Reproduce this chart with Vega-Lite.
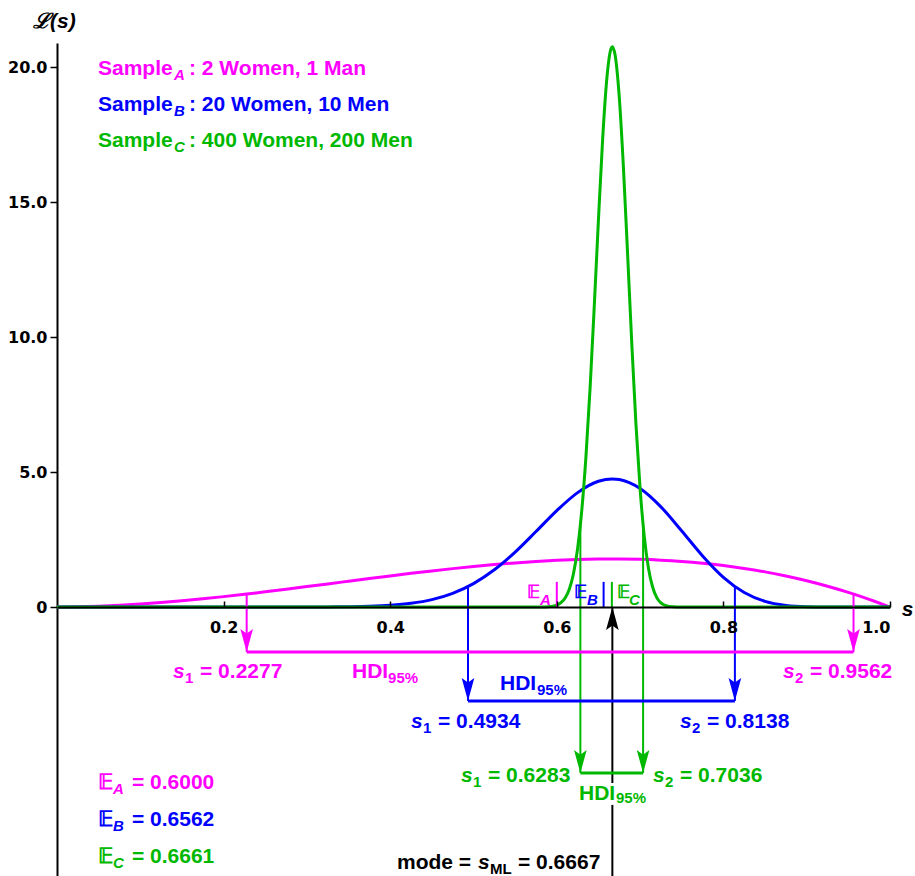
{
  "$schema": "https://vega.github.io/schema/vega-lite/v6.json",
  "width": 833,
  "height": 833,
  "autosize": {"type": "none"},
  "padding": {"left": 57, "top": 43, "right": 25, "bottom": 0},
  "background": "white",
  "config": {"view": {"stroke": null}, "font": "Liberation Sans"},
  "datasets": {
    "curves": [
      {"s": 0, "L": 0, "k": "A"}, {"s": 0.025, "L": 0.0073, "k": "A"}, {"s": 0.05, "L": 0.0285, "k": "A"}, {"s": 0.075, "L": 0.0624, "k": "A"},
      {"s": 0.1, "L": 0.108, "k": "A"}, {"s": 0.125, "L": 0.1641, "k": "A"}, {"s": 0.15, "L": 0.2295, "k": "A"}, {"s": 0.175, "L": 0.3032, "k": "A"},
      {"s": 0.2, "L": 0.384, "k": "A"}, {"s": 0.225, "L": 0.4708, "k": "A"}, {"s": 0.25, "L": 0.5625, "k": "A"}, {"s": 0.275, "L": 0.6579, "k": "A"},
      {"s": 0.3, "L": 0.756, "k": "A"}, {"s": 0.325, "L": 0.8556, "k": "A"}, {"s": 0.35, "L": 0.9555, "k": "A"}, {"s": 0.375, "L": 1.0547, "k": "A"},
      {"s": 0.4, "L": 1.152, "k": "A"}, {"s": 0.425, "L": 1.2463, "k": "A"}, {"s": 0.45, "L": 1.3365, "k": "A"}, {"s": 0.475, "L": 1.4214, "k": "A"},
      {"s": 0.5, "L": 1.5, "k": "A"}, {"s": 0.525, "L": 1.5711, "k": "A"}, {"s": 0.55, "L": 1.6335, "k": "A"}, {"s": 0.575, "L": 1.6862, "k": "A"},
      {"s": 0.6, "L": 1.728, "k": "A"}, {"s": 0.625, "L": 1.7578, "k": "A"}, {"s": 0.65, "L": 1.7745, "k": "A"}, {"s": 0.6667, "L": 1.7778, "k": "A"},
      {"s": 0.675, "L": 1.7769, "k": "A"}, {"s": 0.7, "L": 1.764, "k": "A"}, {"s": 0.725, "L": 1.7346, "k": "A"}, {"s": 0.75, "L": 1.6875, "k": "A"},
      {"s": 0.775, "L": 1.6217, "k": "A"}, {"s": 0.8, "L": 1.536, "k": "A"}, {"s": 0.825, "L": 1.4293, "k": "A"}, {"s": 0.85, "L": 1.3005, "k": "A"},
      {"s": 0.875, "L": 1.1484, "k": "A"}, {"s": 0.9, "L": 0.972, "k": "A"}, {"s": 0.925, "L": 0.7701, "k": "A"}, {"s": 0.95, "L": 0.5415, "k": "A"},
      {"s": 0.975, "L": 0.2852, "k": "A"}, {"s": 1, "L": 0, "k": "A"},
      {"s": 0, "L": 0, "k": "B"}, {"s": 0.2, "L": 0, "k": "B"}, {"s": 0.25, "L": 0, "k": "B"}, {"s": 0.3, "L": 0.0009, "k": "B"},
      {"s": 0.325, "L": 0.0032, "k": "B"}, {"s": 0.35, "L": 0.0096, "k": "B"}, {"s": 0.375, "L": 0.0256, "k": "B"}, {"s": 0.4, "L": 0.0619, "k": "B"},
      {"s": 0.425, "L": 0.136, "k": "B"}, {"s": 0.45, "L": 0.2735, "k": "B"}, {"s": 0.475, "L": 0.5064, "k": "B"}, {"s": 0.5, "L": 0.8674, "k": "B"},
      {"s": 0.525, "L": 1.3779, "k": "B"}, {"s": 0.55, "L": 2.0346, "k": "B"}, {"s": 0.575, "L": 2.7949, "k": "B"}, {"s": 0.6, "L": 3.57, "k": "B"},
      {"s": 0.625, "L": 4.2366, "k": "B"}, {"s": 0.65, "L": 4.6564, "k": "B"}, {"s": 0.6667, "L": 4.743, "k": "B"}, {"s": 0.675, "L": 4.7208, "k": "B"},
      {"s": 0.7, "L": 4.388, "k": "B"}, {"s": 0.725, "L": 3.708, "k": "B"}, {"s": 0.75, "L": 2.8165, "k": "B"}, {"s": 0.775, "L": 1.8921, "k": "B"},
      {"s": 0.8, "L": 1.0995, "k": "B"}, {"s": 0.825, "L": 0.5353, "k": "B"}, {"s": 0.85, "L": 0.2082, "k": "B"}, {"s": 0.875, "L": 0.06, "k": "B"},
      {"s": 0.9, "L": 0.0113, "k": "B"}, {"s": 0.925, "L": 0.0011, "k": "B"}, {"s": 0.95, "L": 0, "k": "B"}, {"s": 1, "L": 0, "k": "B"},
      {"s": 0, "L": 0, "k": "C"}, {"s": 0.55, "L": 0, "k": "C"}, {"s": 0.57, "L": 0, "k": "C"}, {"s": 0.58, "L": 0.0016, "k": "C"},
      {"s": 0.59, "L": 0.0119, "k": "C"}, {"s": 0.6, "L": 0.0709, "k": "C"}, {"s": 0.605, "L": 0.1583, "k": "C"}, {"s": 0.61, "L": 0.3331, "k": "C"},
      {"s": 0.615, "L": 0.6607, "k": "C"}, {"s": 0.62, "L": 1.2336, "k": "C"}, {"s": 0.625, "L": 2.169, "k": "C"}, {"s": 0.63, "L": 3.5848, "k": "C"},
      {"s": 0.635, "L": 5.572, "k": "C"}, {"s": 0.64, "L": 8.1346, "k": "C"}, {"s": 0.645, "L": 11.154, "k": "C"}, {"s": 0.65, "L": 14.347, "k": "C"},
      {"s": 0.655, "L": 17.304, "k": "C"}, {"s": 0.66, "L": 19.549, "k": "C"}, {"s": 0.665, "L": 20.671, "k": "C"}, {"s": 0.6667, "L": 20.75, "k": "C"},
      {"s": 0.67, "L": 20.441, "k": "C"}, {"s": 0.675, "L": 18.88, "k": "C"}, {"s": 0.68, "L": 16.271, "k": "C"}, {"s": 0.685, "L": 13.067, "k": "C"},
      {"s": 0.69, "L": 9.768, "k": "C"}, {"s": 0.695, "L": 6.785, "k": "C"}, {"s": 0.7, "L": 4.3776, "k": "C"}, {"s": 0.705, "L": 2.617, "k": "C"},
      {"s": 0.71, "L": 1.4481, "k": "C"}, {"s": 0.715, "L": 0.74, "k": "C"}, {"s": 0.72, "L": 0.3486, "k": "C"}, {"s": 0.725, "L": 0.1513, "k": "C"},
      {"s": 0.73, "L": 0.0603, "k": "C"}, {"s": 0.74, "L": 0.0073, "k": "C"}, {"s": 0.75, "L": 0.0005, "k": "C"}, {"s": 0.76, "L": 0, "k": "C"},
      {"s": 0.8, "L": 0, "k": "C"}, {"s": 1, "L": 0, "k": "C"}
    ],
    "rules": [
      {"x": 0.2277, "y": 0.4805, "y2": -1.667, "k": "A"},
      {"x": 0.9562, "y": 0.4806, "y2": -1.667, "k": "A"},
      {"x": 0.4934, "y": 0.758, "y2": -3.48, "k": "B"},
      {"x": 0.8138, "y": 0.758, "y2": -3.48, "k": "B"},
      {"x": 0.6283, "y": 3.04, "y2": -6.15, "k": "C"},
      {"x": 0.7036, "y": 3.04, "y2": -6.15, "k": "C"},
      {"x": 0.6667, "y": -9.963, "y2": -7.33, "k": "K"},
      {"x": 0.6667, "y": -6.52, "y2": 0, "k": "K"},
      {"x": 0.6, "y": 0, "y2": 0.93, "k": "A"},
      {"x": 0.6562, "y": 0, "y2": 0.93, "k": "B"},
      {"x": 0.6661, "y": 0, "y2": 0.93, "k": "C"}
    ],
    "bars": [
      {"x": 0.2277, "x2": 0.9562, "y": -1.667, "k": "A"},
      {"x": 0.4934, "x2": 0.8138, "y": -3.48, "k": "B"},
      {"x": 0.6283, "x2": 0.7036, "y": -6.15, "k": "C"}
    ],
    "heads": [
      {"x": 0.2277, "y": -1.667, "k": "A", "dir": "down"},
      {"x": 0.9562, "y": -1.667, "k": "A", "dir": "down"},
      {"x": 0.4934, "y": -3.48, "k": "B", "dir": "down"},
      {"x": 0.8138, "y": -3.48, "k": "B", "dir": "down"},
      {"x": 0.6283, "y": -6.15, "k": "C", "dir": "down"},
      {"x": 0.7036, "y": -6.15, "k": "C", "dir": "down"},
      {"x": 0.6667, "y": 0, "k": "K", "dir": "up"}
    ],
    "txt": [
      {"x": 0.0492, "y": 19.7, "t": "Sample", "k": "A", "p": "n"},
      {"x": 0.1405, "y": 19.52, "t": "A", "k": "A", "p": "si"},
      {"x": 0.1585, "y": 19.7, "t": ": 2 Women, 1 Man", "k": "A", "p": "n"},
      {"x": 0.0492, "y": 18.37, "t": "Sample", "k": "B", "p": "n"},
      {"x": 0.1405, "y": 18.19, "t": "B", "k": "B", "p": "si"},
      {"x": 0.1585, "y": 18.37, "t": ": 20 Women, 10 Men", "k": "B", "p": "n"},
      {"x": 0.0492, "y": 17.04, "t": "Sample", "k": "C", "p": "n"},
      {"x": 0.1405, "y": 16.85, "t": "C", "k": "C", "p": "si"},
      {"x": 0.1585, "y": 17.04, "t": ": 400 Women, 200 Men", "k": "C", "p": "n"},
      {"x": 0.1393, "y": -2.63, "t": "s", "k": "A", "p": "i"},
      {"x": 0.1537, "y": -2.815, "t": "1", "k": "A", "p": "sn"},
      {"x": 0.1717, "y": -2.63, "t": "= 0.2277", "k": "A", "p": "n"},
      {"x": 0.3541, "y": -2.63, "t": "HDI", "k": "A", "p": "n"},
      {"x": 0.3974, "y": -2.815, "t": "95%", "k": "A", "p": "sn"},
      {"x": 0.8715, "y": -2.63, "t": "s", "k": "A", "p": "i"},
      {"x": 0.8859, "y": -2.815, "t": "2", "k": "A", "p": "sn"},
      {"x": 0.9039, "y": -2.63, "t": "= 0.9562", "k": "A", "p": "n"},
      {"x": 0.5318, "y": -3.074, "t": "HDI", "k": "B", "p": "n"},
      {"x": 0.5762, "y": -3.259, "t": "95%", "k": "B", "p": "sn"},
      {"x": 0.425, "y": -4.48, "t": "s", "k": "B", "p": "i"},
      {"x": 0.4394, "y": -4.67, "t": "1", "k": "B", "p": "sn"},
      {"x": 0.4574, "y": -4.48, "t": "= 0.4934", "k": "B", "p": "n"},
      {"x": 0.7479, "y": -4.48, "t": "s", "k": "B", "p": "i"},
      {"x": 0.7623, "y": -4.67, "t": "2", "k": "B", "p": "sn"},
      {"x": 0.7803, "y": -4.48, "t": "= 0.8138", "k": "B", "p": "n"},
      {"x": 0.485, "y": -6.481, "t": "s", "k": "C", "p": "i"},
      {"x": 0.4994, "y": -6.667, "t": "1", "k": "C", "p": "sn"},
      {"x": 0.5174, "y": -6.481, "t": "= 0.6283", "k": "C", "p": "n"},
      {"x": 0.7155, "y": -6.481, "t": "s", "k": "C", "p": "i"},
      {"x": 0.7299, "y": -6.667, "t": "2", "k": "C", "p": "sn"},
      {"x": 0.7479, "y": -6.481, "t": "= 0.7036", "k": "C", "p": "n"},
      {"x": 0.6267, "y": -7.148, "t": "HDI", "k": "C", "p": "n"},
      {"x": 0.6711, "y": -7.26, "t": "95%", "k": "C", "p": "sn"},
      {"x": 0.4082, "y": -9.72, "t": "mode =", "k": "K", "p": "n"},
      {"x": 0.5054, "y": -9.72, "t": "s", "k": "K", "p": "i"},
      {"x": 0.5198, "y": -9.89, "t": "ML", "k": "K", "p": "sn"},
      {"x": 0.5534, "y": -9.72, "t": "= 0.6667", "k": "K", "p": "n"},
      {"x": 0.0492, "y": -6.741, "t": "𝔼", "k": "A", "p": "n"},
      {"x": 0.0672, "y": -6.926, "t": "A", "k": "A", "p": "si"},
      {"x": 0.09, "y": -6.741, "t": "= 0.6000", "k": "A", "p": "n"},
      {"x": 0.0492, "y": -8.111, "t": "𝔼", "k": "B", "p": "n"},
      {"x": 0.0672, "y": -8.296, "t": "B", "k": "B", "p": "si"},
      {"x": 0.09, "y": -8.111, "t": "= 0.6562", "k": "B", "p": "n"},
      {"x": 0.0492, "y": -9.481, "t": "𝔼", "k": "C", "p": "n"},
      {"x": 0.0672, "y": -9.667, "t": "C", "k": "C", "p": "si"},
      {"x": 0.09, "y": -9.481, "t": "= 0.6661", "k": "C", "p": "n"},
      {"x": 0.5642, "y": 0.333, "t": "𝔼", "k": "A", "p": "e"},
      {"x": 0.5798, "y": 0.074, "t": "A", "k": "A", "p": "es"},
      {"x": 0.6207, "y": 0.333, "t": "𝔼", "k": "B", "p": "e"},
      {"x": 0.6363, "y": 0.074, "t": "B", "k": "B", "p": "es"},
      {"x": 0.6723, "y": 0.333, "t": "𝔼", "k": "C", "p": "e"},
      {"x": 0.6867, "y": 0.074, "t": "C", "k": "C", "p": "es"},
      {"x": -0.0288, "y": 21.44, "t": "ℒ(s)", "k": "K", "p": "i"},
      {"x": 1.014, "y": -0.333, "t": "s", "k": "K", "p": "i"}
    ]
  },
  "layer": [
    {
      "data": {"name": "curves"},
      "mark": {"type": "line", "strokeWidth": 3, "interpolate": "monotone", "clip": true},
      "encoding": {
        "x": {"field": "s", "type": "quantitative",
          "scale": {"domain": [0, 1], "nice": false, "zero": false},
          "axis": {"orient": "bottom", "offset": -269, "values": [0.2, 0.4, 0.6, 0.8, 1.0], "format": ".1f",
            "title": null, "grid": false, "domainColor": "black", "domainWidth": 2, "tickColor": "black", "tickWidth": 1.5,
            "tickSize": -6, "labelPadding": 18, "labelFont": "DejaVu Sans", "labelFontWeight": "bold", "labelFontSize": 16,
            "labelColor": "black", "zindex": 1}},
        "y": {"field": "L", "type": "quantitative",
          "scale": {"domain": [-9.963, 20.889], "nice": false, "zero": false},
          "axis": {"orient": "left", "values": [0, 5, 10, 15, 20], "labelExpr": "datum.value == 0 ? '0' : format(datum.value, '.1f')",
            "title": null, "grid": false, "domainColor": "black", "domainWidth": 2, "tickColor": "black", "tickWidth": 1.5,
            "tickSize": 7, "labelPadding": 3, "labelFont": "DejaVu Sans", "labelFontWeight": "bold", "labelFontSize": 16,
            "labelColor": "black"}},
        "color": {"field": "k", "type": "nominal",
          "scale": {"domain": ["A", "B", "C", "K"], "range": ["#ff00ff", "#0000ff", "#00b800", "#000000"]}, "legend": null}
      }
    },
    {
      "data": {"name": "rules"},
      "mark": {"type": "rule", "strokeWidth": 2},
      "encoding": {
        "x": {"field": "x", "type": "quantitative"},
        "y": {"field": "y", "type": "quantitative"},
        "y2": {"field": "y2"},
        "color": {"field": "k", "type": "nominal"}
      }
    },
    {
      "data": {"name": "bars"},
      "mark": {"type": "rule", "strokeWidth": 3},
      "encoding": {
        "x": {"field": "x", "type": "quantitative"},
        "x2": {"field": "x2"},
        "y": {"field": "y", "type": "quantitative"},
        "color": {"field": "k", "type": "nominal"}
      }
    },
    {
      "data": {"name": "heads"},
      "transform": [{"filter": "datum.dir == 'down'"}],
      "mark": {"type": "point", "filled": true, "opacity": 1, "strokeWidth": 0, "size": 529, "shape": "M0,0L-0.55,-2L0,-1.6L0.55,-2Z"},
      "encoding": {
        "x": {"field": "x", "type": "quantitative"},
        "y": {"field": "y", "type": "quantitative"},
        "color": {"field": "k", "type": "nominal"}
      }
    },
    {
      "data": {"name": "heads"},
      "transform": [{"filter": "datum.dir == 'up'"}],
      "mark": {"type": "point", "filled": true, "opacity": 1, "strokeWidth": 0, "size": 529, "shape": "M0,0L-0.55,2L0,1.6L0.55,2Z"},
      "encoding": {
        "x": {"field": "x", "type": "quantitative"},
        "y": {"field": "y", "type": "quantitative"},
        "color": {"field": "k", "type": "nominal"}
      }
    },
    {
      "data": {"name": "txt"},
      "transform": [{"filter": "datum.p == 'n'"}],
      "mark": {"type": "text", "align": "left", "baseline": "alphabetic", "fontSize": 21, "fontWeight": "bold", "font": "Liberation Sans"},
      "encoding": {
        "x": {"field": "x", "type": "quantitative"},
        "y": {"field": "y", "type": "quantitative"},
        "text": {"field": "t"},
        "color": {"field": "k", "type": "nominal"}
      }
    },
    {
      "data": {"name": "txt"},
      "transform": [{"filter": "datum.p == 'i'"}],
      "mark": {"type": "text", "align": "left", "baseline": "alphabetic", "fontSize": 21, "fontWeight": "bold", "fontStyle": "italic", "font": "Liberation Sans"},
      "encoding": {
        "x": {"field": "x", "type": "quantitative"},
        "y": {"field": "y", "type": "quantitative"},
        "text": {"field": "t"},
        "color": {"field": "k", "type": "nominal"}
      }
    },
    {
      "data": {"name": "txt"},
      "transform": [{"filter": "datum.p == 'sn'"}],
      "mark": {"type": "text", "align": "left", "baseline": "alphabetic", "fontSize": 15, "fontWeight": "bold", "font": "Liberation Sans"},
      "encoding": {
        "x": {"field": "x", "type": "quantitative"},
        "y": {"field": "y", "type": "quantitative"},
        "text": {"field": "t"},
        "color": {"field": "k", "type": "nominal"}
      }
    },
    {
      "data": {"name": "txt"},
      "transform": [{"filter": "datum.p == 'si' || datum.p == 'es'"}],
      "mark": {"type": "text", "align": "left", "baseline": "alphabetic", "fontSize": 15, "fontWeight": "bold", "fontStyle": "italic", "font": "Liberation Sans"},
      "encoding": {
        "x": {"field": "x", "type": "quantitative"},
        "y": {"field": "y", "type": "quantitative"},
        "text": {"field": "t"},
        "color": {"field": "k", "type": "nominal"}
      }
    },
    {
      "data": {"name": "txt"},
      "transform": [{"filter": "datum.p == 'e'"}],
      "mark": {"type": "text", "align": "left", "baseline": "alphabetic", "fontSize": 18, "fontWeight": "bold", "font": "Liberation Sans"},
      "encoding": {
        "x": {"field": "x", "type": "quantitative"},
        "y": {"field": "y", "type": "quantitative"},
        "text": {"field": "t"},
        "color": {"field": "k", "type": "nominal"}
      }
    }
  ]
}
